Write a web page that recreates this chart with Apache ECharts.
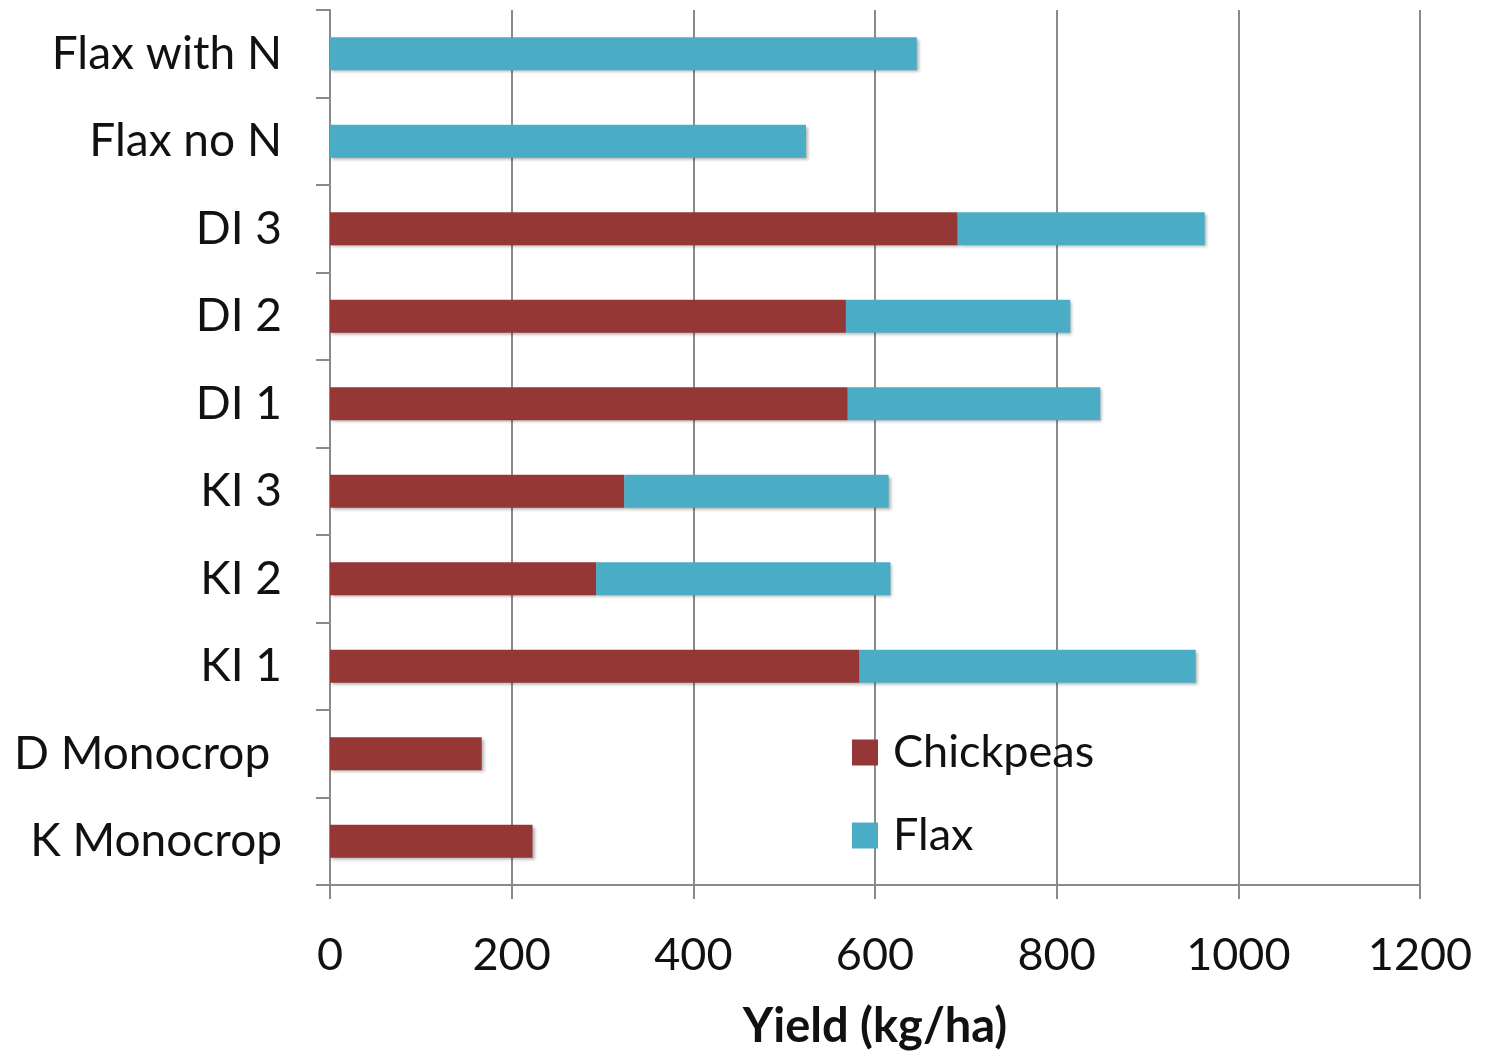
<!DOCTYPE html>
<html>
<head>
<meta charset="utf-8">
<script src="https://cdn.jsdelivr.net/npm/echarts@6/dist/echarts.min.js"></script>
<style>
html,body{margin:0;padding:0;background:#fff;}
#chart{width:1485px;height:1055px;}
</style>
</head>
<body>
<div id="chart"></div>
<script>
const categories = ['K Monocrop', 'D Monocrop ', 'KI 1', 'KI 2', 'KI 3', 'DI 1', 'DI 2', 'DI 3', 'Flax no N', 'Flax with N'];
const chickpeas = [223, 167, 583, 293, 324, 570, 568, 691, null, null];
const flax = [null, null, 370, 324, 291, 278, 247, 272, 524, 646];
const xTicks = { min: 0, max: 1200, interval: 200 };

const FONT = 'Lato';
const chart = echarts.init(document.getElementById('chart'));
const shadow = { shadowBlur: 3, shadowOffsetX: 2, shadowOffsetY: 2, shadowColor: 'rgba(0,0,0,0.3)' };
chart.setOption({
  animation: false,
  grid: { left: 330, right: 65, top: 10, bottom: 169 },
  legend: {
    orient: 'vertical', left: 847, top: 725,
    itemWidth: 26, itemHeight: 26, itemGap: 38,
    icon: 'rect',
    textStyle: { fontFamily: FONT, fontSize: 45, color: '#111', padding: [0, 0, 0, 10] },
    data: ['Chickpeas', 'Flax']
  },
  xAxis: {
    type: 'value', min: xTicks.min, max: xTicks.max, interval: xTicks.interval,
    name: 'Yield (kg/ha)', nameLocation: 'middle', nameGap: 118,
    nameTextStyle: { fontFamily: FONT, fontSize: 47, fontWeight: 'bold', color: '#111' },
    axisLine: { show: true, lineStyle: { color: '#8a8a8a', width: 2 } },
    axisTick: { show: true, length: 14, lineStyle: { color: '#8a8a8a', width: 2 } },
    axisLabel: { fontFamily: FONT, fontSize: 45, color: '#111', margin: 48, formatter: v => String(v) },
    splitLine: { show: true, lineStyle: { color: '#8a8a8a', width: 2 } }
  },
  yAxis: {
    type: 'category', data: categories,
    axisLine: { show: true, lineStyle: { color: '#8a8a8a', width: 2 } },
    axisTick: { show: true, length: 14, lineStyle: { color: '#8a8a8a', width: 2 } },
    axisLabel: { fontFamily: FONT, fontSize: 46, color: '#111', margin: 48 },
    splitLine: { show: false }
  },
  series: [
    { name: 'Chickpeas', type: 'bar', stack: 'y', data: chickpeas, barWidth: '37.5%',
      itemStyle: Object.assign({ color: '#953735' }, shadow) },
    { name: 'Flax', type: 'bar', stack: 'y', data: flax, barWidth: '37.5%',
      itemStyle: Object.assign({ color: '#4BACC6' }, shadow) }
  ]
});
</script>
</body>
</html>
